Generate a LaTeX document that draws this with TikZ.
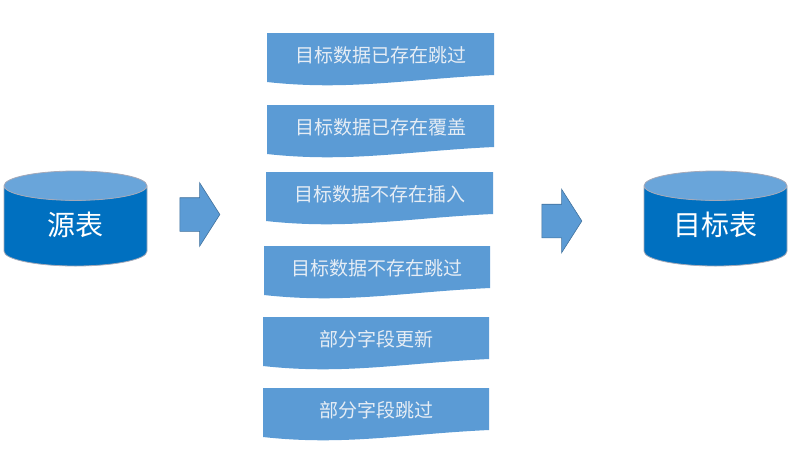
\documentclass[tikz,border=0pt]{standalone}
\usepackage{fontspec}
\setmainfont{Noto Sans CJK SC}
\usetikzlibrary{shapes.geometric,shapes.arrows}
\definecolor{docblue}{HTML}{5B9BD5}
\definecolor{dbblue}{HTML}{0070C0}
\definecolor{dbtop}{HTML}{69A5DA}
\definecolor{rimgray}{HTML}{A5A9B8}
\definecolor{arrowrim}{HTML}{41719C}
\definecolor{doctext}{HTML}{E6EDF5}
\newcommand{\docbox}[5]{%
\begin{scope}[shift={(#2,#3)}]
\fill[docblue] (0,0)--(#4,0)--(#4,42)..controls (#4*0.62,46) and (#4*0.36,58) .. (0,49)--cycle;
\node[doclabel](#1) at (#4*0.5,22.5){#5};
\end{scope}}
\begin{document}
\begin{tikzpicture}[x=1pt,y=-1pt,
doclabel/.style={text=doctext,font=\fontsize{19}{19}\selectfont,inner sep=0},
dbstyle/.style={cylinder,anchor=shape center,shape border rotate=90,aspect=0.35,cylinder uses custom fill,cylinder body fill=dbblue,cylinder end fill=dbtop,draw=rimgray,line width=0.8pt,minimum width=143pt,minimum height=95pt,inner sep=0,outer sep=0,text=white,text width=84pt,align=center,text height=23pt,text depth=5pt,font=\fontsize{28}{28}\selectfont},
arrowstyle/.style={single arrow,single arrow tip angle=115,single arrow head extend=15pt,minimum height=40pt,inner xsep=0,inner ysep=16.5pt,outer sep=0,fill=docblue,draw=arrowrim,line width=0.6pt}]
\useasboundingbox (0,0) rectangle (806,464);
\node[dbstyle](srcdb) at (75.5,218.5){源表};
\node[arrowstyle](arrowin) at (194.5,214.5){};
\docbox{doc1}{267}{33}{227}{目标数据已存在跳过}
\docbox{doc2}{267}{105}{227}{目标数据已存在覆盖}
\docbox{doc3}{266}{172}{227}{目标数据不存在插入}
\docbox{doc4}{264}{246}{226}{目标数据不存在跳过}
\docbox{doc5}{263}{317}{226}{部分字段更新}
\docbox{doc6}{263}{388}{226}{部分字段跳过}
\node[arrowstyle](arrowout) at (556.5,221){};
\node[dbstyle](tgtdb) at (715.5,218.5){目标表};
\end{tikzpicture}
\end{document}
